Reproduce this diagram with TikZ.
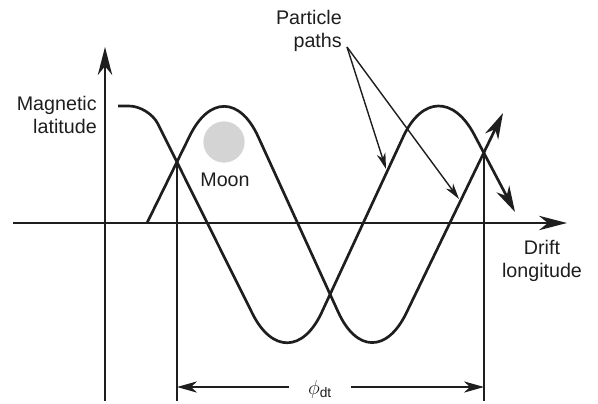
\documentclass[tikz,border=0pt]{standalone}
\usepackage{fontspec}
\setmainfont{Liberation Sans}
\usepackage{xcolor}
\usetikzlibrary{arrows.meta}

\definecolor{inkblack}{HTML}{1E1E1E}
\definecolor{moongray}{HTML}{D4D4D4}

\begin{document}
\begin{tikzpicture}[
    x = 0.025cm, y = -0.025cm,
    lbl/.style = {
        font=\fontsize{14}{16.5}\selectfont, text=inkblack, inner sep=0pt
    },
    axisline/.style = {
        line width=1.4pt, draw=inkblack, -{Stealth[length=7mm, width=3.6mm, inset=2.2mm]}
    },
    ppath/.style = {
        line width=1.9pt, draw=inkblack, line join=round,
        -{Stealth[length=6.5mm, width=3.6mm, inset=2mm]}
    },
    guide/.style = {
        line width=0.85pt, draw=inkblack
    },
    dim/.style = {
        line width=0.85pt, draw=inkblack, -{Stealth[length=5mm, width=2.8mm, inset=1.5mm]}
    },
    leader/.style = {
        line width=1pt, draw=inkblack, -{Stealth[length=4mm, width=2.2mm, inset=1.2mm]}
    },
    moon/.style = {
        circle, fill=moongray, minimum size=1.03cm, inner sep=0pt
    }
]
\useasboundingbox (0,0) rectangle (598,403);

% ── Axes ──
\coordinate (ybot) at (105,401);
\coordinate (ytop) at (105,47);
\coordinate (xleft) at (13,223);
\coordinate (xright) at (567,223);
\draw[axisline] (ybot) -- (ytop);
\draw[axisline] (xleft) -- (xright);

% ── Axis labels ──
\node[lbl, align=right, anchor=east] (maglat) at (97,115) {Magnetic\\latitude};
\node[lbl, align=center] (driftlon) at (542,261) {Drift\\longitude};

% ── Moon ──
\node[moon] (moon) at (224,142) {};
\node[lbl] (moonlbl) at (225,180) {Moon};

% ── Path 1 (from high latitude) ──
\coordinate (p1s) at (118,106);
\coordinate (p1a) at (149,106);
\coordinate (p1q) at (218.5,245.5);
\coordinate (p1b) at (288,385);
\coordinate (p1c) at (437,64);
\coordinate (p1e) at (515,212);
\draw[ppath] (p1s) [rounded corners=0.5cm] -- (p1a) -- (p1q)
    [rounded corners=2cm] -- (p1b) -- (p1c) -- (p1e);

% ── Path 2 (from the equator) ──
\coordinate (p2s) at (147,223);
\coordinate (p2a) at (225,64);
\coordinate (p2b) at (371.5,385);
\coordinate (p2e) at (503,113);
\draw[ppath] (p2s) [rounded corners=2cm] -- (p2a) -- (p2b) -- (p2e);

% ── Crossings and drop lines ──
\coordinate (cross1) at (177,162);
\coordinate (cross2) at (484,153);
\coordinate (foot1) at (177,401);
\coordinate (foot2) at (484,401);
\draw[guide] (cross1) -- (foot1);
\draw[guide] (cross2) -- (foot2);

% ── Drift distance ──
\node[lbl, inner xsep=13pt] (phi) at (320,389) {$\phi$\textsubscript{dt}};
\coordinate (dimL) at (177,387);
\coordinate (dimR) at (484,387);
\draw[dim] (phi.west |- dimL) -- (dimL);
\draw[dim] (phi.east |- dimR) -- (dimR);

% ── Particle paths label ──
\node[lbl, align=right, anchor=east] (partlbl) at (342,31) {Particle\\paths};
\coordinate (lsrc) at (347,47);
\coordinate (tip1) at (386,169);
\coordinate (tip2) at (459,199);
\draw[leader] (lsrc) -- (tip1);
\draw[leader] (lsrc) -- (tip2);

\end{tikzpicture}
\end{document}
